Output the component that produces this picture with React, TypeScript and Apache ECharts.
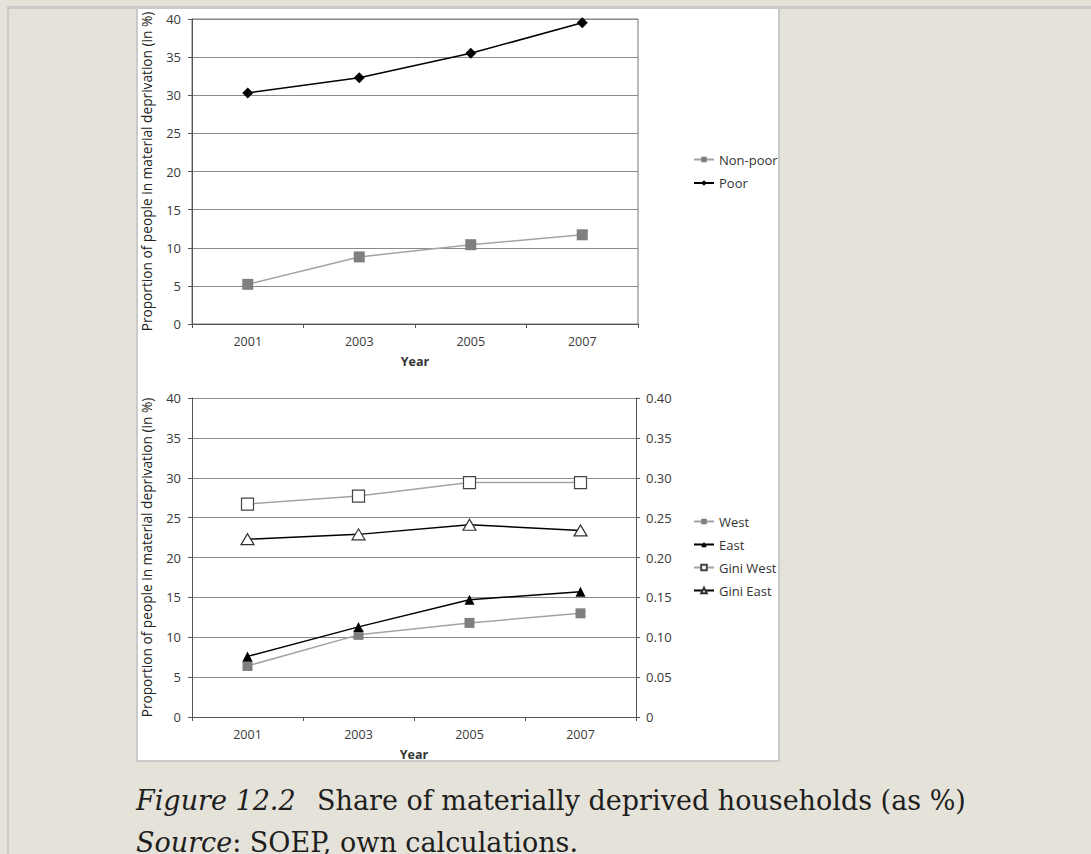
import React, { useEffect, useRef } from 'react';
import * as echarts from 'echarts';

const years = ['2001', '2003', '2005', '2007'];
const nonPoor = [5.2, 8.8, 10.4, 11.7];
const poor = [30.3, 32.3, 35.5, 39.5];
const west = [6.4, 10.3, 11.8, 13.0];
const east = [7.6, 11.3, 14.7, 15.7];
const giniWest = [0.267, 0.277, 0.294, 0.294];
const giniEast = [0.223, 0.229, 0.241, 0.234];

const yName = 'Proportion of people in material deprivation (in %)';
const figLabel = 'Figure 12.2';
const captionLine1 = 'Share of materially deprived households (as %)';
const sourceLabel = 'Source';
const captionLine2 = ': SOEP, own calculations.';

const SANS = '"Open Sans", "Noto Sans", sans-serif';
const SERIF = '"DejaVu Serif", serif';
const LABEL = '#3a3a3a';
const AXIS = '#555555';
const SPLIT = '#8a8a8a';
const GREY_MARK = '#7f7f7f';
const GREY_LINE = '#a3a3a3';
const CAP = '#1e1e1e';

function xAxisFor(gridIndex: number) {
  return {
    type: 'category',
    gridIndex,
    data: years,
    boundaryGap: true,
    z: 3,
    axisLine: { show: true, lineStyle: { color: AXIS, width: 1 } },
    axisTick: { show: true, inside: false, length: 4, lineStyle: { color: AXIS } },
    axisLabel: { margin: 11, fontFamily: SANS, fontSize: 12.5, color: LABEL },
    name: 'Year',
    nameLocation: 'middle',
    nameGap: 31,
    nameTextStyle: { fontFamily: SANS, fontSize: 12.5, fontWeight: 'bold', color: '#333' },
  };
}

function yAxisFor(gridIndex: number) {
  return {
    type: 'value',
    gridIndex,
    min: 0,
    max: 40,
    interval: 5,
    z: 3,
    axisLine: { show: true, lineStyle: { color: AXIS, width: 1 } },
    axisTick: { show: true, inside: false, length: 4, lineStyle: { color: AXIS } },
    axisLabel: { margin: 11, fontFamily: SANS, fontSize: 13, color: LABEL },
    splitLine: { show: true, lineStyle: { color: SPLIT, width: 1 } },
    name: yName,
    nameLocation: 'middle',
    nameGap: 39,
    nameTextStyle: { fontFamily: SANS, fontSize: 13.7, color: '#222' },
  };
}

export default function App() {
  const ref = useRef<HTMLDivElement>(null);
  useEffect(() => {
    if (!ref.current) return;
    const chart = echarts.init(ref.current, undefined, { renderer: 'svg' });
    const legendText = { fontFamily: SANS, fontSize: 13, color: '#333' };
    chart.setOption({
      animation: false,
      backgroundColor: '#e5e3d9',
      grid: [
        { left: 192, top: 19, width: 446, height: 305, show: true, borderColor: '#777', borderWidth: 1, backgroundColor: 'transparent', z: 2 },
        { left: 192, top: 398, width: 444, height: 319, show: false },
      ],
      xAxis: [xAxisFor(0), xAxisFor(1)],
      yAxis: [
        yAxisFor(0),
        yAxisFor(1),
        {
          type: 'value',
          gridIndex: 1,
          position: 'right',
          min: 0,
          max: 0.4,
          interval: 0.05,
          z: 3,
          axisLine: { show: true, lineStyle: { color: AXIS, width: 1 } },
          axisTick: { show: true, inside: false, length: 4, lineStyle: { color: AXIS } },
          axisLabel: {
            margin: 10,
            fontFamily: SANS,
            fontSize: 13,
            color: LABEL,
            formatter: (v: number) => (v === 0 ? '0' : v.toFixed(2)),
          },
          splitLine: { show: false },
        },
      ],
      legend: [
        {
          data: ['Non-poor', 'Poor'],
          orient: 'vertical',
          left: 693,
          top: 153,
          padding: 0,
          itemWidth: 20,
          itemHeight: 7,
          itemGap: 10.5,
          textStyle: legendText,
        },
        {
          data: ['West', 'East', 'Gini West', 'Gini East'],
          orient: 'vertical',
          left: 693,
          top: 515,
          padding: 0,
          itemWidth: 20,
          itemHeight: 7,
          itemGap: 10,
          textStyle: legendText,
        },
      ],
      series: [
        {
          name: 'Non-poor', type: 'line', xAxisIndex: 0, yAxisIndex: 0, data: nonPoor, z: 5,
          symbol: 'rect', symbolSize: 11,
          itemStyle: { color: GREY_MARK },
          lineStyle: { color: GREY_LINE, width: 1.5 },
        },
        {
          name: 'Poor', type: 'line', xAxisIndex: 0, yAxisIndex: 0, data: poor, z: 5,
          symbol: 'diamond', symbolSize: 11,
          itemStyle: { color: '#000' },
          lineStyle: { color: '#000', width: 1.5 },
        },
        {
          name: 'West', type: 'line', xAxisIndex: 1, yAxisIndex: 1, data: west, z: 5,
          symbol: 'rect', symbolSize: 10,
          itemStyle: { color: GREY_MARK },
          lineStyle: { color: GREY_LINE, width: 1.5 },
        },
        {
          name: 'East', type: 'line', xAxisIndex: 1, yAxisIndex: 1, data: east, z: 5,
          symbol: 'triangle', symbolSize: [10, 10],
          itemStyle: { color: '#000' },
          lineStyle: { color: '#000', width: 1.5 },
        },
        {
          name: 'Gini West', type: 'line', xAxisIndex: 1, yAxisIndex: 2, data: giniWest, z: 5,
          symbol: 'rect', symbolSize: 12,
          itemStyle: { color: '#fff', borderColor: '#444', borderWidth: 1.2 },
          lineStyle: { color: GREY_LINE, width: 1.5 },
        },
        {
          name: 'Gini East', type: 'line', xAxisIndex: 1, yAxisIndex: 2, data: giniEast, z: 5,
          symbol: 'triangle', symbolSize: [13, 11],
          itemStyle: { color: '#fff', borderColor: '#333', borderWidth: 1.2 },
          lineStyle: { color: '#000', width: 1.5 },
        },
      ],
      graphic: [
        { type: 'rect', z: 0, silent: true, shape: { x: 7, y: 6, width: 1084, height: 3 }, style: { fill: '#cacaca' } },
        { type: 'rect', z: 0, silent: true, shape: { x: 7, y: 6, width: 2, height: 848 }, style: { fill: '#cacaca' } },
        { type: 'rect', z: 0, silent: true, shape: { x: 136, y: 9, width: 644, height: 753 }, style: { fill: '#cacaca' } },
        { type: 'rect', z: 0, silent: true, shape: { x: 138, y: 9, width: 640, height: 751 }, style: { fill: '#ffffff' } },
        {
          type: 'text', z: 1, silent: true, x: 136, y: 800,
          style: { text: figLabel, fontFamily: SERIF, fontSize: 27, fontStyle: 'italic', fill: CAP, verticalAlign: 'middle' },
        },
        {
          type: 'text', z: 1, silent: true, x: 317, y: 800,
          style: { text: captionLine1, fontFamily: SERIF, fontSize: 27, fill: CAP, verticalAlign: 'middle' },
        },
        {
          type: 'text', z: 1, silent: true, x: 136, y: 842,
          style: {
            text: '{i|' + sourceLabel + '}{n|' + captionLine2 + '}',
            rich: {
              i: { fontFamily: SERIF, fontSize: 27, fontStyle: 'italic', fill: CAP },
              n: { fontFamily: SERIF, fontSize: 27, fill: CAP },
            },
            fontFamily: SERIF, fontSize: 27, fill: CAP,
            verticalAlign: 'middle',
          },
        },
      ],
    });
    return () => chart.dispose();
  }, []);
  return <div ref={ref} style={{ position: 'absolute', left: 0, top: 0, width: 1091, height: 854 }} />;
}
